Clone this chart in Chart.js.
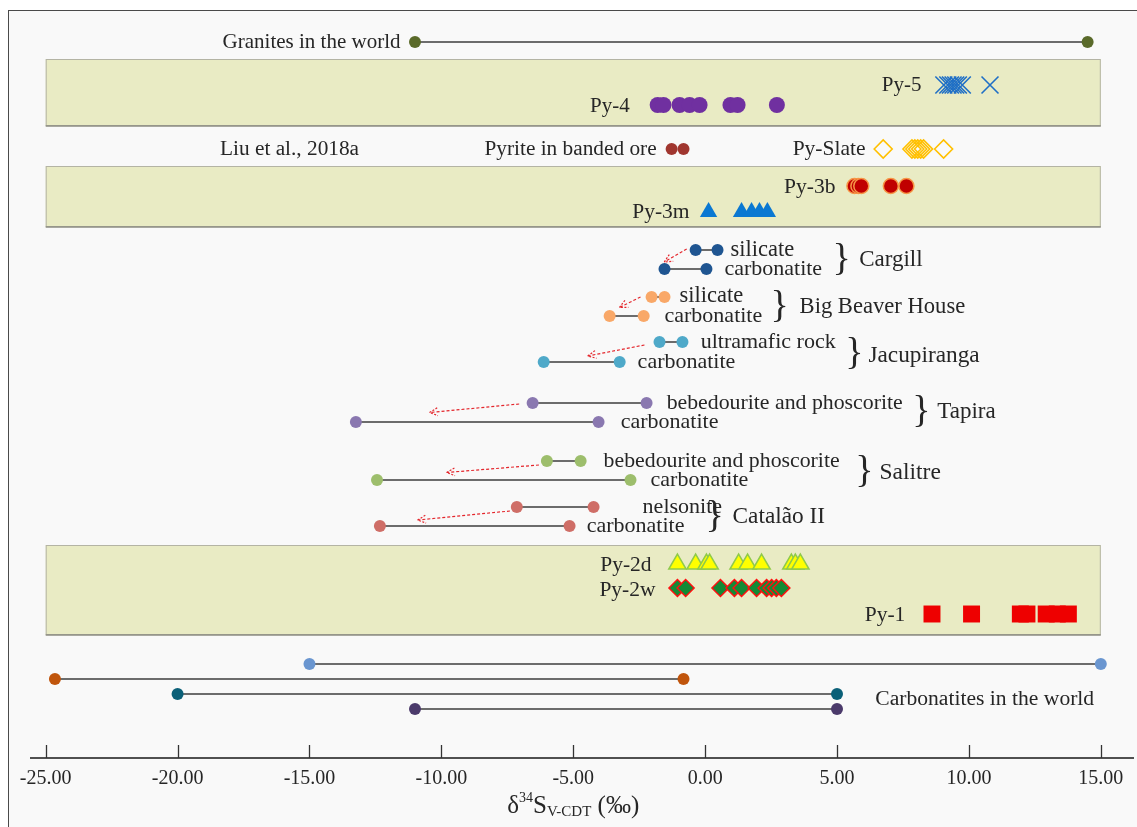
<!DOCTYPE html>
<html>
<head>
<meta charset="utf-8">
<script src="https://cdn.jsdelivr.net/npm/chart.js@4/dist/chart.umd.min.js"></script>
<style>
  html, body { margin: 0; padding: 0; background: #ffffff; }
  #frame { position: absolute; left: 8px; top: 10px; width: 1150px; height: 840px;
           border: 1.5px solid #4a4a4a; background: #f9f9f9; }
  #wrap { position: absolute; left: 0; top: 0; width: 1137px; height: 827px; }
</style>
</head>
<body>
<div id="frame"></div>
<div id="wrap"><canvas id="c" width="1137" height="827"></canvas></div>
<script>
// δ34S (‰, V-CDT) values of each group
const X_TICKS = [-25, -20, -15, -10, -5, 0, 5, 10, 15];
const TICK_LABELS = ['-25.00', '-20.00', '-15.00', '-10.00', '-5.00', '0.00', '5.00', '10.00', '15.00'];

const GRANITES_WORLD = [-11.0, 14.5];
const PY5 = [9.05, 9.2, 9.3, 9.4, 9.5, 9.6, 9.75, 10.8];
const PY4 = [-1.8, -1.58, -0.97, -0.59, -0.21, 0.96, 1.23, 2.72];
const BANDED_ORE = [-1.27, -0.82];
const PY_SLATE = [6.75, 7.84, 7.95, 8.06, 8.17, 8.28, 9.04];
const PY3B = [5.66, 5.81, 5.92, 7.04, 7.63];
const PY3M = [0.13, 1.38, 1.76, 2.06, 2.36];

const CARGILL_SILICATE = [-0.36, 0.47];
const CARGILL_CARBONATITE = [-1.54, 0.05];
const BBH_SILICATE = [-2.03, -1.54];
const BBH_CARBONATITE = [-3.62, -2.33];
const JACUPIRANGA_ULTRAMAFIC = [-1.73, -0.86];
const JACUPIRANGA_CARBONATITE = [-6.12, -3.24];
const TAPIRA_BEBEDOURITE = [-6.54, -2.22];
const TAPIRA_CARBONATITE = [-13.24, -4.04];
const SALITRE_BEBEDOURITE = [-6.0, -4.72];
const SALITRE_CARBONATITE = [-12.44, -2.83];
const CATALAO_NELSONITE = [-7.14, -4.23];
const CATALAO_CARBONATITE = [-12.33, -5.14];

const PY2D = [-1.05, -0.36, 0.05, 0.17, 1.27, 1.61, 2.14, 3.27, 3.42, 3.61];
const PY2W = [-1.05, -0.74, 0.58, 1.11, 1.38, 1.95, 2.33, 2.52, 2.7, 2.89];
const PY1 = [8.6, 10.1, 11.95, 12.2, 12.93, 13.35, 13.77];

const CARBONATITES_WORLD_A = [-15.0, 15.0];
const CARBONATITES_WORLD_B = [-24.65, -0.82];
const CARBONATITES_WORLD_C = [-20.0, 5.0];
const CARBONATITES_WORLD_D = [-11.0, 5.0];

// vertical lane of every row (hidden y axis, top = 0)
const LANE = {
  granites: 4.2, py5: 8.5, py4: 10.5, banded: 14.9, py3b: 18.6, py3m: 21.2,
  cargSil: 25.0, cargCarb: 26.9, bbhSil: 29.7, bbhCarb: 31.6,
  jacUm: 34.2, jacCarb: 36.2, tapBeb: 40.3, tapCarb: 42.2,
  salBeb: 46.1, salCarb: 48.0, catNel: 50.7, catCarb: 52.6,
  py2d: 56.4, py2w: 58.8, py1: 61.4,
  worldA: 66.4, worldB: 67.9, worldC: 69.4, worldD: 70.9
};

// shaded sample panels (lane spans)
const PANELS = [[5.9, 12.6], [16.6, 22.7], [54.5, 63.5]];

// dashed arrows: [x0, lane0, x1, lane1]
const ARROWS = [
  [-0.7, 24.9, -1.55, 26.2],
  [-2.45, 29.7, -3.25, 30.75],
  [-2.3, 34.5, -4.45, 35.6],
  [-7.05, 40.4, -10.45, 41.25],
  [-6.3, 46.5, -9.8, 47.25],
  [-7.4, 51.1, -10.9, 52.0]
];

// text labels: [text, x, lane, align, font size]
const LABELS = [
  ['Granites in the world', -11.55, 4.2, 'right', 21],
  ['Py-5', 8.2, 8.5, 'right', 21],
  ['Py-4', -2.86, 10.6, 'right', 21],
  ['Liu et al., 2018a', -18.39, 14.9, 'left', 21.3],
  ['Pyrite in banded ore', -1.84, 14.9, 'right', 21.3],
  ['Py-Slate', 6.08, 14.9, 'right', 21.5],
  ['Py-3b', 4.94, 18.7, 'right', 21.5],
  ['Py-3m', -0.59, 21.2, 'right', 21.5],
  ['silicate', 0.96, 25.0, 'left', 22.5],
  ['carbonatite', 0.73, 26.9, 'left', 22],
  ['Cargill', 5.84, 26.0, 'left', 23],
  ['silicate', -0.97, 29.6, 'left', 22.5],
  ['carbonatite', -1.54, 31.6, 'left', 22],
  ['Big Beaver House', 3.58, 30.7, 'left', 22.6],
  ['ultramafic rock', -0.17, 34.2, 'left', 22],
  ['carbonatite', -2.56, 36.2, 'left', 22],
  ['Jacupiranga', 6.19, 35.6, 'left', 23.3],
  ['bebedourite and phoscorite', -1.46, 40.3, 'left', 21.8],
  ['carbonatite', -3.2, 42.2, 'left', 22],
  ['Tapira', 8.8, 41.2, 'left', 23],
  ['bebedourite and phoscorite', -3.85, 46.1, 'left', 21.8],
  ['carbonatite', -2.07, 48.0, 'left', 22],
  ['Salitre', 6.61, 47.3, 'left', 23.5],
  ['nelsonite', -2.37, 50.7, 'left', 22],
  ['carbonatite', -4.49, 52.6, 'left', 22],
  ['Catalão II', 1.04, 51.7, 'left', 23.3],
  ['Py-2d', -2.03, 56.5, 'right', 21.5],
  ['Py-2w', -1.88, 59.0, 'right', 21.5],
  ['Py-1', 7.59, 61.5, 'right', 21.5],
  ['Carbonatites in the world', 6.45, 69.9, 'left', 21.6]
];

// braces grouping the two rows of each complex: [x, lane]
const BRACES = [[5.17, 26.0], [2.82, 30.7], [5.66, 35.4], [8.2, 41.2], [6.04, 47.2], [0.36, 51.7]];

const SERIF = "'Liberation Serif', 'Times New Roman', serif";
const LINE_COLOR = '#3c3c3c';

function pts(values, lane) { return values.map(v => ({ x: v, y: lane })); }

function range(values, lane, color) {
  return {
    type: 'line', data: pts(values, lane), showLine: true,
    borderColor: LINE_COLOR, borderWidth: 1.5,
    pointRadius: 6, pointHoverRadius: 6, pointBackgroundColor: color, pointBorderWidth: 0,
    clip: false
  };
}

function scatter(values, lane, style) {
  return Object.assign({ type: 'scatter', data: pts(values, lane), clip: false, showLine: false }, style);
}

const datasets = [
  range(GRANITES_WORLD, LANE.granites, '#5a6a2a'),
  scatter(PY5, LANE.py5, { pointStyle: 'crossRot', pointRadius: 12, borderColor: '#1f6fc6', borderWidth: 1.6, backgroundColor: '#1f6fc6' }),
  scatter(PY4, LANE.py4, { pointStyle: 'circle', pointRadius: 8, backgroundColor: '#7030a0', borderWidth: 0 }),
  scatter(BANDED_ORE, LANE.banded, { pointStyle: 'circle', pointRadius: 6, backgroundColor: '#a0362f', borderWidth: 0 }),
  scatter(PY_SLATE, LANE.banded, { pointStyle: 'rectRot', pointRadius: 9, backgroundColor: 'rgba(0,0,0,0)', borderColor: '#ffc000', borderWidth: 1.6 }),
  scatter(PY3B, LANE.py3b, { pointStyle: 'circle', pointRadius: 7.5, backgroundColor: '#c00000', borderColor: '#f79646', borderWidth: 1.5 }),
  scatter(PY3M, LANE.py3m, { pointStyle: 'triangle', pointRadius: 10, backgroundColor: '#0a78d2', borderColor: '#0a78d2', borderWidth: 0 }),
  range(CARGILL_SILICATE, LANE.cargSil, '#1f5591'),
  range(CARGILL_CARBONATITE, LANE.cargCarb, '#1f5591'),
  range(BBH_SILICATE, LANE.bbhSil, '#f9a868'),
  range(BBH_CARBONATITE, LANE.bbhCarb, '#f9a868'),
  range(JACUPIRANGA_ULTRAMAFIC, LANE.jacUm, '#4fa9c9'),
  range(JACUPIRANGA_CARBONATITE, LANE.jacCarb, '#4fa9c9'),
  range(TAPIRA_BEBEDOURITE, LANE.tapBeb, '#8a78b0'),
  range(TAPIRA_CARBONATITE, LANE.tapCarb, '#8a78b0'),
  range(SALITRE_BEBEDOURITE, LANE.salBeb, '#9dbe6c'),
  range(SALITRE_CARBONATITE, LANE.salCarb, '#9dbe6c'),
  range(CATALAO_NELSONITE, LANE.catNel, '#cf6e67'),
  range(CATALAO_CARBONATITE, LANE.catCarb, '#cf6e67'),
  scatter(PY2D, LANE.py2d, { pointStyle: 'triangle', pointRadius: 10, backgroundColor: '#ffff00', borderColor: '#8fca4a', borderWidth: 1.5 }),
  scatter(PY2W, LANE.py2w, { pointStyle: 'rectRot', pointRadius: 8.5, backgroundColor: '#138a35', borderColor: '#ff1010', borderWidth: 1.5 }),
  scatter(PY1, LANE.py1, { pointStyle: 'rect', pointRadius: 12, backgroundColor: '#ee0000', borderColor: '#ee0000', borderWidth: 0 }),
  range(CARBONATITES_WORLD_A, LANE.worldA, '#6a96d0'),
  range(CARBONATITES_WORLD_B, LANE.worldB, '#c0550c'),
  range(CARBONATITES_WORLD_C, LANE.worldC, '#0b6078'),
  range(CARBONATITES_WORLD_D, LANE.worldD, '#4b3a6b')
];

const decorations = {
  id: 'decorations',
  beforeDatasetsDraw(chart) {
    const { ctx, scales: { x, y } } = chart;
    ctx.save();
    PANELS.forEach(([a, b]) => {
      const l = x.getPixelForValue(-25), r = x.getPixelForValue(15);
      const t = y.getPixelForValue(a), btm = y.getPixelForValue(b);
      ctx.fillStyle = '#e9ebc4';
      ctx.fillRect(l, t, r - l, btm - t);
      ctx.strokeStyle = '#b4b4a4';
      ctx.lineWidth = 1;
      ctx.strokeRect(l + 0.5, t + 0.5, r - l - 1, btm - t - 1);
      ctx.strokeStyle = '#8c8c82';
      ctx.lineWidth = 1.5;
      ctx.beginPath(); ctx.moveTo(l, btm); ctx.lineTo(r, btm); ctx.stroke();
    });
    ctx.restore();
  },
  afterDatasetsDraw(chart) {
    const { ctx, scales: { x, y } } = chart;
    ctx.save();
    // dashed arrows pointing to lower δ34S
    ctx.strokeStyle = '#e4262c';
    ctx.lineWidth = 1.2;
    ARROWS.forEach(([x0, l0, x1, l1]) => {
      const px0 = x.getPixelForValue(x0), py0 = y.getPixelForValue(l0);
      const px1 = x.getPixelForValue(x1), py1 = y.getPixelForValue(l1);
      ctx.setLineDash([3, 2]);
      ctx.beginPath(); ctx.moveTo(px0, py0); ctx.lineTo(px1, py1); ctx.stroke();
      const ang = Math.atan2(py1 - py0, px1 - px0);
      const hl = 9;
      ctx.setLineDash([2, 1.5]);
      ctx.beginPath();
      ctx.moveTo(px1 - hl * Math.cos(ang - 0.45), py1 - hl * Math.sin(ang - 0.45));
      ctx.lineTo(px1, py1);
      ctx.lineTo(px1 - hl * Math.cos(ang + 0.45), py1 - hl * Math.sin(ang + 0.45));
      ctx.stroke();
    });
    ctx.setLineDash([]);
    // labels
    ctx.fillStyle = '#262626';
    ctx.textBaseline = 'middle';
    LABELS.forEach(([t, vx, lane, align, size]) => {
      ctx.font = size + 'px ' + SERIF;
      ctx.textAlign = align;
      ctx.fillText(t, x.getPixelForValue(vx), y.getPixelForValue(lane));
    });
    ctx.font = '38px ' + SERIF;
    ctx.textAlign = 'center';
    BRACES.forEach(([vx, lane]) => {
      ctx.fillText('}', x.getPixelForValue(vx), y.getPixelForValue(lane));
    });
    ctx.restore();
  },
  afterDraw(chart) {
    const { ctx, scales: { x }, chartArea } = chart;
    const base = chartArea.bottom;
    ctx.save();
    // axis line and inward ticks
    ctx.strokeStyle = '#505050';
    ctx.lineWidth = 2;
    ctx.beginPath(); ctx.moveTo(30, base); ctx.lineTo(1134, base); ctx.stroke();
    ctx.strokeStyle = '#333333';
    ctx.lineWidth = 1.3;
    X_TICKS.forEach(v => {
      const px = Math.round(x.getPixelForValue(v)) + 0.5;
      ctx.beginPath(); ctx.moveTo(px, base); ctx.lineTo(px, base - 13); ctx.stroke();
    });
    // axis title δ34S V-CDT (‰)
    const parts = [
      ['δ', '25px ' + SERIF, 0],
      ['34', '14px ' + SERIF, -8],
      ['S', '25px ' + SERIF, 0],
      ['V-CDT', '15px ' + SERIF, 6],
      [' (‰)', '25px ' + SERIF, 0]
    ];
    let total = 0;
    parts.forEach(p => { ctx.font = p[1]; total += ctx.measureText(p[0]).width; });
    let cx = (x.left + x.right) / 2 - total / 2;
    const ty = 806;
    ctx.fillStyle = '#262626';
    ctx.textBaseline = 'middle';
    ctx.textAlign = 'left';
    parts.forEach(p => {
      ctx.font = p[1];
      ctx.fillText(p[0], cx, ty + p[2]);
      cx += ctx.measureText(p[0]).width;
    });
    ctx.restore();
  }
};

new Chart(document.getElementById('c'), {
  data: { datasets },
  options: {
    responsive: false,
    animation: false,
    events: [],
    layout: { autoPadding: false, padding: { left: 45.7, right: 36.2, top: 0, bottom: 0 } },
    plugins: { legend: { display: false }, tooltip: { enabled: false } },
    scales: {
      x: {
        type: 'linear', position: 'bottom', min: -25, max: 15,
        grid: { display: false, drawTicks: false },
        border: { display: false },
        ticks: {
          stepSize: 5, autoSkip: false, maxRotation: 0, padding: 9,
          color: '#262626', font: { family: SERIF, size: 20 },
          callback: (v) => { const i = X_TICKS.indexOf(v); return i >= 0 ? TICK_LABELS[i] : ''; }
        },
        afterFit: (s) => { s.height = 69; }
      },
      y: { type: 'linear', display: false, min: 0, max: 75.8, reverse: true }
    }
  },
  plugins: [decorations]
});
</script>
</body>
</html>
